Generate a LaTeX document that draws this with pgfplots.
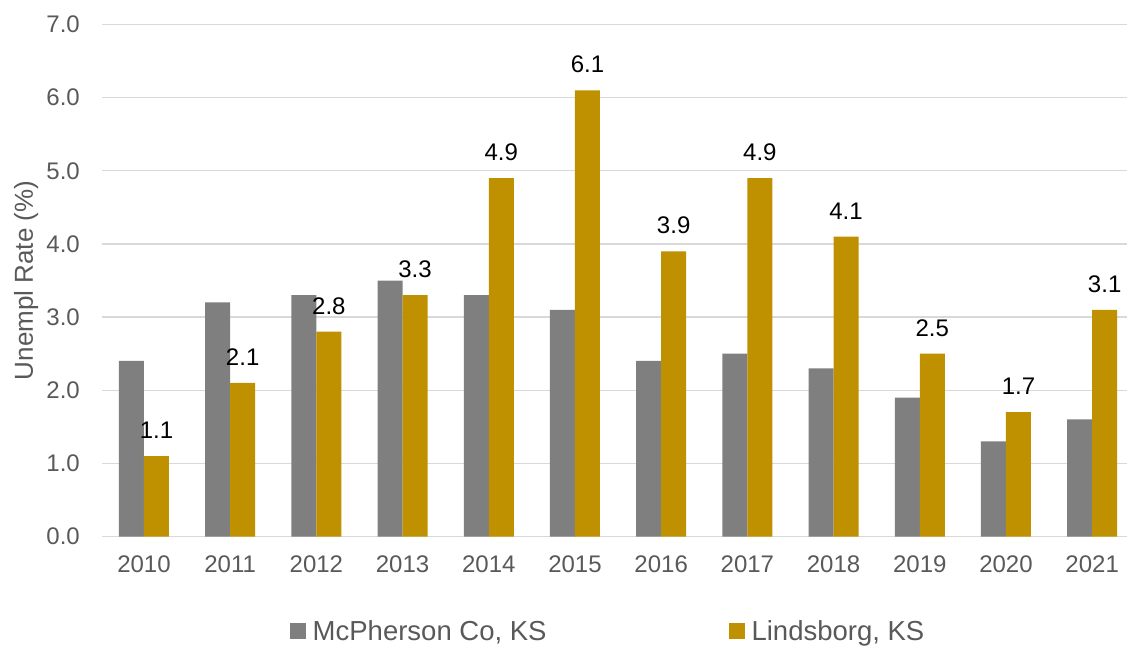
\documentclass[border=0pt]{standalone}
\usepackage{fontspec}
\setmainfont{Liberation Sans}
\usepackage{pgfplots}
\pgfplotsset{compat=1.18}

\definecolor{mcgray}{HTML}{7F7F7F}
\definecolor{lindgold}{HTML}{BF9000}
\definecolor{labgray}{HTML}{595959}
\definecolor{gridgray}{HTML}{D9D9D9}

\begin{document}
\begin{tikzpicture}
\begin{axis}[
    at={(0pt,0pt)}, anchor=south west,
    scale only axis,
    width=1025pt, height=512pt,
    ybar=0pt, bar width=25pt,
    xmin=-0.487, xmax=11.404,
    ymin=0, ymax=7,
    ytick={0,1,...,7},
    xtick=data,
    xticklabels={2010,2011,2012,2013,2014,2015,2016,2017,2018,2019,2020,2021},
    /pgf/number format/assume math mode=true,
    yticklabel style={
        /pgf/number format/.cd, fixed, fixed zerofill, precision=1,
        /tikz/.cd, font=\fontsize{24}{28}\selectfont, text=labgray,
        inner sep=0pt, xshift=-22pt},
    xticklabel style={font=\fontsize{24}{28}\selectfont, text=labgray,
        inner sep=0pt, yshift=-19.5pt},
    major tick length=0pt,
    axis line style={draw=none},
    ymajorgrids,
    grid style={gridgray, line width=1.3pt},
    ylabel={Unempl Rate (\%)},
    ylabel style={at={(rel axis cs:0,0.5)}, anchor=base, inner sep=0pt,
        yshift=69pt, font=\fontsize{26}{30}\selectfont, text=labgray},
    legend columns=2,
    legend style={draw=none, fill=none, at={(rel axis cs:0.4937,-0.1846)},
        anchor=center, font=\fontsize{27.5}{32}\selectfont, text=labgray,
        cells={inner sep=0pt},
        /tikz/every odd column/.style={column sep=5pt},
        /tikz/every even column/.style={column sep=180pt}},
    legend image code/.code={\fill[#1] (0pt,-8pt) rectangle (16pt,8pt);},
]
\addplot[fill=mcgray, draw=none] coordinates {
    (0,2.4) (1,3.2) (2,3.3) (3,3.5) (4,3.3) (5,3.1)
    (6,2.4) (7,2.5) (8,2.3) (9,1.9) (10,1.3) (11,1.6)};
\addplot[fill=lindgold, draw=none,
    nodes near coords={\pgfmathprintnumber[fixed,fixed zerofill,precision=1]{\pgfplotspointmeta}},
    every node near coord/.append style={anchor=south, inner sep=0pt,
        yshift=17pt, text=black, font=\fontsize{24}{28}\selectfont}] coordinates {
    (0,1.1) (1,2.1) (2,2.8) (3,3.3) (4,4.9) (5,6.1)
    (6,3.9) (7,4.9) (8,4.1) (9,2.5) (10,1.7) (11,3.1)};
\legend{{McPherson Co, KS},{Lindsborg, KS}}
\end{axis}
\pgfresetboundingbox
\path[use as bounding box] (-102pt,-112.5pt) rectangle (1025pt,536.5pt);
\end{tikzpicture}
\end{document}
